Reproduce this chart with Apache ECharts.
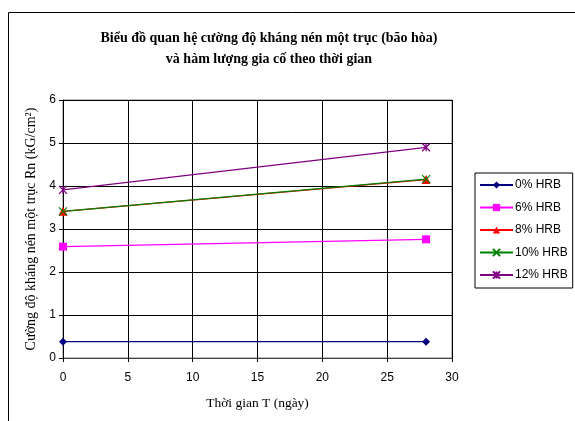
<!DOCTYPE html>
<html>
<head>
<meta charset="utf-8">
<script src="https://cdn.jsdelivr.net/npm/echarts@6/dist/echarts.min.js"></script>
<style>
  html, body { margin: 0; padding: 0; background: #fff; }
  #chart { width: 575px; height: 421px; }
</style>
</head>
<body>
<div id="chart"></div>
<script>
// Curing time in days
const days = [0, 28];
// Unconfined compressive strength Rn (kG/cm²) per HRB content
const hrb0 = [0.38, 0.38];
const hrb6 = [2.59, 2.76];
const hrb8 = [3.41, 4.15];
const hrb10 = [3.41, 4.16];
const hrb12 = [3.91, 4.90];

const seriesNames = ['0% HRB', '6% HRB', '8% HRB', '10% HRB', '12% HRB'];
const seriesData = [hrb0, hrb6, hrb8, hrb10, hrb12];

const colors = ['#000080', '#FF00FF', '#FF0000', '#008000', '#800080'];
const symbols = [
  'diamond',
  'rect',
  'triangle',
  'path://M0,0L10,10M10,0L0,10',
  'path://M0,0L10,10M10,0L0,10M5,0L5,10'
];
const symbolSizes = [8, 8, 9, 8, 8];

const serifFont = '"Liberation Serif", "Times New Roman", serif';
const sansFont = '"Liberation Sans", Arial, sans-serif';

const chart = echarts.init(document.getElementById('chart'));

const series = seriesNames.map((name, i) => {
  const stroked = i >= 3;
  return {
    name: name,
    type: 'line',
    data: days.map((d, k) => [d, seriesData[i][k]]),
    symbol: symbols[i],
    symbolSize: symbolSizes[i],
    showAllSymbol: true,
    lineStyle: { color: colors[i], width: 1.3 },
    itemStyle: stroked
      ? { color: 'rgba(0,0,0,0)', borderColor: colors[i], borderWidth: 1.3 }
      : { color: colors[i], borderWidth: 0 },
    emphasis: { disabled: true },
    animation: false
  };
});

chart.setOption({
  animation: false,
  graphic: [
    {
      type: 'rect',
      shape: { x: 8.5, y: 12.5, width: 700, height: 500 },
      style: { fill: 'none', stroke: '#000', lineWidth: 1 },
      silent: true
    },
    {
      type: 'text',
      x: 269,
      y: 28,
      style: {
        text: 'Biểu đồ quan hệ cường độ kháng nén một trục (bão hòa)\nvà hàm lượng gia cố theo thời gian',
        font: 'bold 14px ' + serifFont,
        fill: '#000',
        align: 'center',
        lineHeight: 21
      },
      silent: true
    }
  ],
  grid: {
    left: 63,
    right: 123,
    top: 100,
    bottom: 63,
    show: true,
    borderColor: '#808080',
    borderWidth: 1
  },
  legend: {
    orient: 'vertical',
    left: 475,
    top: 173,
    data: seriesNames,
    itemWidth: 33,
    itemHeight: 9,
    itemGap: 10.5,
    padding: [6, 5, 7, 4],
    borderColor: '#000',
    borderWidth: 1,
    textStyle: {
      fontFamily: sansFont,
      fontSize: 12,
      color: '#000',
      padding: [0, 0, 0, -3]
    }
  },
  xAxis: {
    type: 'value',
    min: 0,
    max: 30,
    interval: 5,
    name: 'Thời gian T (ngày)',
    nameLocation: 'middle',
    nameGap: 38,
    nameTextStyle: {
      fontFamily: serifFont,
      fontSize: 13.5,
      color: '#000'
    },
    axisLine: { lineStyle: { color: '#404040', width: 1 } },
    axisTick: { show: true, length: 4, lineStyle: { color: '#000' } },
    axisLabel: {
      fontFamily: sansFont,
      fontSize: 12,
      color: '#000',
      margin: 14
    },
    splitLine: { show: true, lineStyle: { color: '#000', width: 1 } }
  },
  yAxis: {
    type: 'value',
    min: 0,
    max: 6,
    interval: 1,
    name: 'Cường độ kháng nén một trục Rn (kG/cm²)',
    nameLocation: 'middle',
    nameGap: 24,
    nameRotate: 90,
    nameTextStyle: {
      fontFamily: serifFont,
      fontSize: 14,
      color: '#000'
    },
    axisLine: { show: true, lineStyle: { color: '#000', width: 1 } },
    axisTick: { show: true, length: 4, lineStyle: { color: '#000' } },
    axisLabel: {
      fontFamily: sansFont,
      fontSize: 12,
      color: '#000',
      margin: 7
    },
    splitLine: { show: true, lineStyle: { color: '#000', width: 1 } }
  },
  series: series
});
</script>
</body>
</html>
